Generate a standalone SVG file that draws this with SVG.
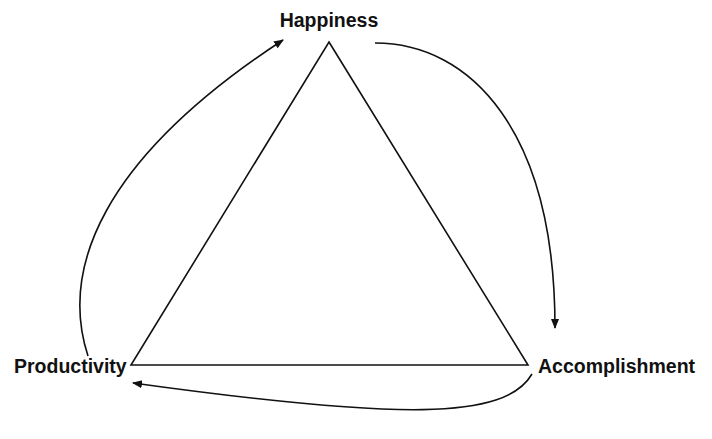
<svg xmlns="http://www.w3.org/2000/svg" width="712" height="439" viewBox="0 0 712 439">
<style>
.lbl{font-family:"Liberation Sans",Arial,Helvetica,sans-serif;font-weight:bold;font-size:19.5px;fill:#111}
.ln{fill:none;stroke:#111;stroke-width:1.6}
</style>
<defs>
<marker id="ah" viewBox="0 0 10 10" refX="9" refY="5" markerWidth="10" markerHeight="10" markerUnits="userSpaceOnUse" orient="auto">
<path d="M0,1 L10,5 L0,9 Z" fill="#111"/>
</marker>
</defs>
<rect width="712" height="439" fill="#fff"/>
<g id="triangle">
<path class="ln" d="M329,42 L528,365 L131,365 Z" stroke-linejoin="miter"/>
</g>
<g id="happiness"><text class="lbl" x="329" y="27" text-anchor="middle">Happiness</text></g>
<g id="productivity"><text class="lbl" x="14" y="373">Productivity</text></g>
<g id="accomplishment"><text class="lbl" x="538" y="373">Accomplishment</text></g>
<g id="connectors">
<path class="ln" d="M88,356 C60,270 100,160 283,40" marker-end="url(#ah)"/>
<path class="ln" d="M375,43 C470,43 555,130 555,328" marker-end="url(#ah)"/>
<path class="ln" d="M532,374 C505,420 400,420 133,383" marker-end="url(#ah)"/>
</g>
</svg>
